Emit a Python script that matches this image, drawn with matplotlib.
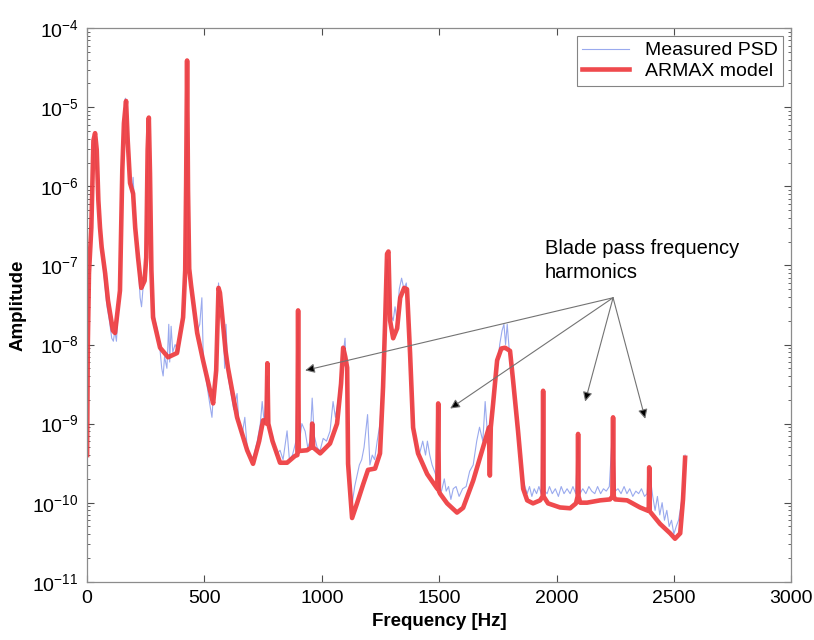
import numpy as np
import matplotlib
matplotlib.use('Agg')
import matplotlib.pyplot as plt
from matplotlib.ticker import FixedLocator, NullFormatter, LogFormatterSciNotation

plt.rcParams['font.family'] = ['Liberation Sans', 'DejaVu Sans']
plt.rcParams['mathtext.fontset'] = 'custom'
plt.rcParams['mathtext.rm'] = 'Liberation Sans'
plt.rcParams['mathtext.it'] = 'Liberation Sans'

# ARMAX model
red_f = [0, 3, 8, 18, 27, 34, 41, 48, 55, 62, 77, 89, 110, 119, 140, 145, 150, 157, 166, 173,
         183, 196, 205, 217, 231, 245, 252, 258, 263, 268, 274, 281, 311, 345, 383, 409, 418,
         422, 426, 430, 435, 443, 469, 494, 524, 537, 550, 555, 560, 566, 572, 590, 600, 639,
         682, 707, 733, 750, 764, 768, 772, 790, 822, 852, 886, 896, 899, 902, 937, 955, 959,
         963, 993, 1035, 1065, 1082, 1091, 1100, 1108, 1112, 1129, 1150, 1176, 1197, 1227, 1248,
         1261, 1270, 1278, 1284, 1291, 1304, 1321, 1334, 1351, 1363, 1376, 1389, 1410, 1449,
         1492, 1496, 1499, 1504, 1534, 1576, 1602, 1645, 1687, 1712, 1716, 1720, 1730, 1747,
         1765, 1781, 1802, 1815, 1836, 1858, 1875, 1900, 1930, 1941, 1943, 1945, 1964, 2015,
         2058, 2083, 2090, 2092, 2094, 2101, 2130, 2186, 2228, 2238, 2241, 2244, 2250, 2301,
         2356, 2390, 2393, 2395, 2397, 2441, 2484, 2505, 2527, 2539, 2548]
red_a = [4e-10, 1e-8, 8e-8, 3e-7, 3.8e-6, 4.7e-6, 2.9e-6, 6.6e-7, 3e-7, 1.7e-7, 7.9e-8, 3.6e-8,
         1.5e-8, 1.4e-8, 4.8e-8, 2.8e-7, 1.6e-6, 6.3e-6, 1.2e-5, 3.8e-6,
         1.1e-6, 8.1e-7, 3e-7, 1.26e-7, 5.2e-8, 6.4e-8, 1.26e-7, 2.9e-6, 7.4e-6, 1.45e-6, 8.7e-8,
         2.2e-8, 9.1e-9, 6.9e-9, 7.8e-9, 2.2e-8, 8.7e-8,
         1.1e-6, 3.9e-5, 8.9e-7, 9.1e-8, 5.6e-8, 1.4e-8, 6.3e-9, 2.6e-9, 1.8e-9, 4.7e-9, 1.5e-8,
         5.2e-8, 4.5e-8, 3e-8, 8.3e-9, 5.1e-9, 1.2e-9,
         4.6e-10, 3.1e-10, 6e-10, 1.1e-9, 1e-9, 5.8e-9, 1e-9, 6e-10, 3.2e-10, 3.2e-10, 3.9e-10,
         4e-10, 2.7e-8, 4.5e-10, 4.6e-10, 5e-10, 1e-9,
         5e-10, 4.2e-10, 5.6e-10, 1e-9, 3.2e-9, 9.1e-9, 7e-9, 5.1e-9, 3.1e-10, 6.4e-11, 9.8e-11,
         1.7e-10, 2.6e-10, 2.7e-10, 4.2e-10,
         2.9e-9, 2e-8, 1.4e-7, 1.5e-7, 2e-8, 1.2e-8, 1.6e-8, 3.9e-8, 5.2e-8, 5e-8, 7.8e-9,
         8.9e-10, 4.2e-10, 2.3e-10,
         1.5e-10, 1.8e-9, 1.4e-10, 1.3e-10, 9.8e-11, 7.5e-11, 8.6e-11, 1.9e-10, 5e-10, 8.9e-10,
         2.2e-10, 9e-10, 1.8e-9, 6.3e-9,
         8.9e-9, 9.1e-9, 8.3e-9, 3.5e-9, 8.1e-10, 1.5e-10, 1.07e-10, 9.8e-11, 1.07e-10, 1.2e-10,
         2.6e-9, 1.2e-10, 9.8e-11, 8.7e-11,
         8.5e-11, 9.8e-11, 1.2e-10, 7.4e-10, 1.2e-10, 1.0e-10, 1.0e-10, 1.07e-10, 1.1e-10,
         1.2e-10, 1.2e-9, 1.2e-10, 1.1e-10, 1.07e-10,
         8.7e-11, 7.9e-11, 8e-11, 2.8e-10, 7.8e-11, 5.4e-11, 4.1e-11, 3.5e-11, 4.1e-11, 1.1e-10,
         3.7e-10]

# Measured PSD
blue_f = [0, 3, 10, 20, 28, 33, 38, 45, 50, 58, 65, 75, 85, 95, 105, 112, 118, 125, 132, 140,
          148, 157, 163, 168, 175, 183, 190, 196, 205, 212, 220, 226, 232, 240, 250, 258, 263,
          268, 274, 281, 290, 300, 310, 318, 324, 330, 340, 348, 352, 358, 365, 375, 390, 400,
          410, 418, 422, 426, 430, 435, 443, 455, 470, 480, 489, 495, 505, 515, 525, 532, 540,
          550, 555, 560, 565, 572, 580, 586, 592, 600, 612, 625, 639, 648, 660, 672, 682, 695,
          705, 715, 725, 738, 746, 755, 768, 778, 790, 805, 822, 835, 852, 862, 875, 890, 899,
          905, 915, 929, 940, 950, 959, 968, 980, 992, 1006, 1020, 1035, 1048, 1058, 1070, 1080,
          1092, 1099, 1105, 1112, 1120, 1130, 1140, 1150, 1160, 1170, 1180, 1195, 1205, 1215,
          1225, 1236, 1248, 1260, 1270, 1278, 1285, 1292, 1304, 1312, 1321, 1330, 1340, 1350,
          1360, 1368, 1376, 1389, 1400, 1415, 1430, 1442, 1450, 1460, 1470, 1480, 1491, 1496,
          1500, 1510, 1522, 1530, 1540, 1550, 1560, 1572, 1585, 1600, 1615, 1630, 1645, 1660,
          1672, 1686, 1696, 1705, 1716, 1725, 1735, 1748, 1758, 1768, 1776, 1783, 1790, 1798,
          1808, 1818, 1830, 1845, 1860, 1875, 1885, 1895, 1905, 1915, 1925, 1935, 1943, 1950,
          1960, 1970, 1982, 1995, 2008, 2020, 2032, 2045, 2058, 2070, 2082, 2092, 2100, 2112,
          2125, 2138, 2150, 2163, 2175, 2188, 2200, 2212, 2225, 2241, 2250, 2262, 2275, 2288,
          2300, 2312, 2325, 2338, 2350, 2362, 2375, 2386, 2395, 2410, 2420, 2430, 2440, 2450,
          2460, 2470, 2480, 2490, 2500, 2510, 2520, 2530, 2540, 2548]
blue_a = [3e-10, 2e-8, 1e-7, 5e-7, 3e-6, 4.5e-6, 2e-6, 1.2e-6, 5e-7, 2.5e-7, 1.3e-7, 6e-8, 3e-8,
          2e-8, 1.2e-8, 1.1e-8, 1.5e-8, 1.1e-8, 2.5e-8, 6e-8,
          1.5e-6, 7e-6, 1.3e-5, 1.1e-5, 3e-6, 1.2e-6, 8e-7, 1.3e-6, 4e-7, 1.5e-7, 8e-8, 3.9e-8,
          3e-8, 6e-8, 1.3e-7, 2.5e-6, 7e-6,
          1.4e-6, 8e-8, 3e-8, 2e-8, 1.5e-8, 9e-9, 5e-9, 4e-9, 7e-9, 5e-9, 1.8e-8, 6e-9, 1.7e-8,
          8e-9, 1e-8, 8e-9, 1.5e-8,
          3e-8, 9e-8, 1.2e-6, 3.8e-5, 9e-7, 9e-8, 5e-8, 2.5e-8, 1.5e-8, 1.8e-8, 3.9e-8, 7e-9,
          4e-9, 2.5e-9, 1.6e-9, 1.2e-9, 3e-9,
          5e-9, 2e-8, 6e-8, 3e-8, 3e-8, 1.9e-8, 5e-9, 1.8e-8, 4e-9, 2.5e-9, 1.5e-9, 2.4e-9,
          9e-10, 7e-10, 1.2e-9, 5e-10, 4e-10,
          3.5e-10, 4.5e-10, 6e-10, 1e-9, 1.9e-9, 1e-9, 4e-9, 8e-10, 7e-10, 4e-10, 4.6e-10,
          3.5e-10, 8.1e-10, 3.5e-10, 4e-10, 6e-10, 2.5e-8,
          6e-10, 1e-9, 8e-10, 5e-10, 6e-10, 2.1e-9, 7e-10, 5e-10, 4.5e-10, 6.5e-10, 6e-10, 8e-10,
          1.9e-9, 1.2e-9, 2e-9, 4e-9,
          8e-9, 1.2e-8, 4e-9, 6e-10, 2e-10, 1e-10, 1.6e-10, 2.2e-10, 3e-10, 3.5e-10, 5e-10,
          1.3e-9, 3e-10, 4e-10,
          3.5e-10, 6e-10, 1e-9, 4e-9, 3e-8, 1.2e-7, 6e-8, 2.5e-8, 2e-8, 3e-8, 2e-8, 5e-8, 6.9e-8,
          5e-8,
          6e-8, 3e-8, 6e-9, 1.2e-9, 5e-10, 4e-10, 6e-10, 4e-10, 6e-10, 4e-10, 3e-10, 2.5e-10,
          2e-10, 1.7e-9,
          1.5e-10, 1.4e-10, 2e-10, 1.4e-10, 1.6e-10, 1.1e-10, 1.5e-10, 1.6e-10, 1.2e-10, 1.5e-10,
          1.6e-10, 2.5e-10, 3e-10, 6e-10,
          9e-10, 6e-10, 1.9e-9, 8e-10, 1e-9, 1.5e-9, 3e-9, 5e-9, 1e-8, 1.5e-8, 1.8e-8, 1e-8,
          1.8e-8, 9e-9,
          6e-9, 2.5e-9, 9e-10, 4e-10, 1.8e-10, 1.3e-10, 1.6e-10, 1.2e-10, 1.5e-10, 1.3e-10,
          1.6e-10, 1.3e-10, 2.5e-9, 1.4e-10,
          1.3e-10, 1.6e-10, 1.3e-10, 1.5e-10, 1.2e-10, 1.6e-10, 1.3e-10, 1.5e-10, 1.3e-10,
          1.6e-10, 1.3e-10, 7e-10, 1.3e-10, 1.5e-10,
          1.3e-10, 1.6e-10, 1.4e-10, 1.3e-10, 1.6e-10, 1.3e-10, 1.5e-10, 1.4e-10, 1.6e-10,
          1.1e-9, 1.4e-10, 1.5e-10, 1.3e-10, 1.6e-10,
          1.3e-10, 1.5e-10, 1.2e-10, 1.4e-10, 1.3e-10, 1.5e-10, 1.2e-10, 1.3e-10, 2.6e-10,
          1.2e-10, 8e-11, 1.2e-10, 7e-11, 1e-10,
          6e-11, 8e-11, 5e-11, 6e-11, 4e-11, 5e-11, 6e-11, 9e-11, 1.5e-10, 4e-10]

# tick positions
x_ticks = [0, 500, 1000, 1500, 2000, 2500, 3000]
y_ticks = [1e-11, 1e-10, 1e-9, 1e-8, 1e-7, 1e-6, 1e-5, 1e-4]

# blade pass harmonics pointed at by the arrows
note_xy = (2241, 3.9e-8)
arrow_f = [929, 1547, 2122, 2378]
arrow_a = [4.7e-9, 1.55e-9, 1.9e-9, 1.15e-9]

fig = plt.figure(figsize=(8.14, 6.4), dpi=100)
ax = fig.add_axes([0.107, 0.091, 0.865, 0.865])

ax.semilogy(blue_f, blue_a, color='#9aaaee', lw=0.8, label='Measured PSD')
ax.semilogy(red_f, red_a, color='#ee3a3e', lw=3.3, alpha=0.92, label='ARMAX model')

ax.set_xlim(0, 3000)
ax.set_ylim(1e-11, 1e-4)
ax.xaxis.set_major_locator(FixedLocator(x_ticks))
ax.yaxis.set_major_locator(FixedLocator(y_ticks))
ax.yaxis.set_major_formatter(LogFormatterSciNotation())
minor = [m * t for t in y_ticks[:-1] for m in range(2, 10)]
ax.yaxis.set_minor_locator(FixedLocator(minor))
ax.yaxis.set_minor_formatter(NullFormatter())
ax.tick_params(which='both', direction='in', top=True, right=True, labelsize=14,
               color='0.3', pad=6)
ax.tick_params(which='major', length=5)
ax.tick_params(which='minor', length=2.5)
for s in ax.spines.values():
    s.set_color('0.55')
    s.set_linewidth(0.9)

ax.set_xlabel('Frequency [Hz]', fontsize=13.5, fontweight='bold', labelpad=4)
ax.set_ylabel('Amplitude', fontsize=13.5, fontweight='bold', labelpad=4)

leg = ax.legend(loc='upper right', fontsize=14, frameon=True, fancybox=False,
                borderpad=0.3, labelspacing=0.15, handlelength=2.4, borderaxespad=0.4)
leg.get_frame().set_edgecolor('0.4')
leg.get_frame().set_linewidth(0.8)

ax.text(1951, 1.15e-7, 'Blade pass frequency\nharmonics', fontsize=14.5, va='center',
        ha='left', linespacing=1.3)
for fx, ay in zip(arrow_f, arrow_a):
    ax.annotate('', xy=(fx, ay), xytext=note_xy,
                arrowprops=dict(arrowstyle='-|>', ec='0.45', fc='k', lw=0.8,
                                mutation_scale=14, shrinkA=0, shrinkB=0))

fig.savefig('out.png', dpi=100)
